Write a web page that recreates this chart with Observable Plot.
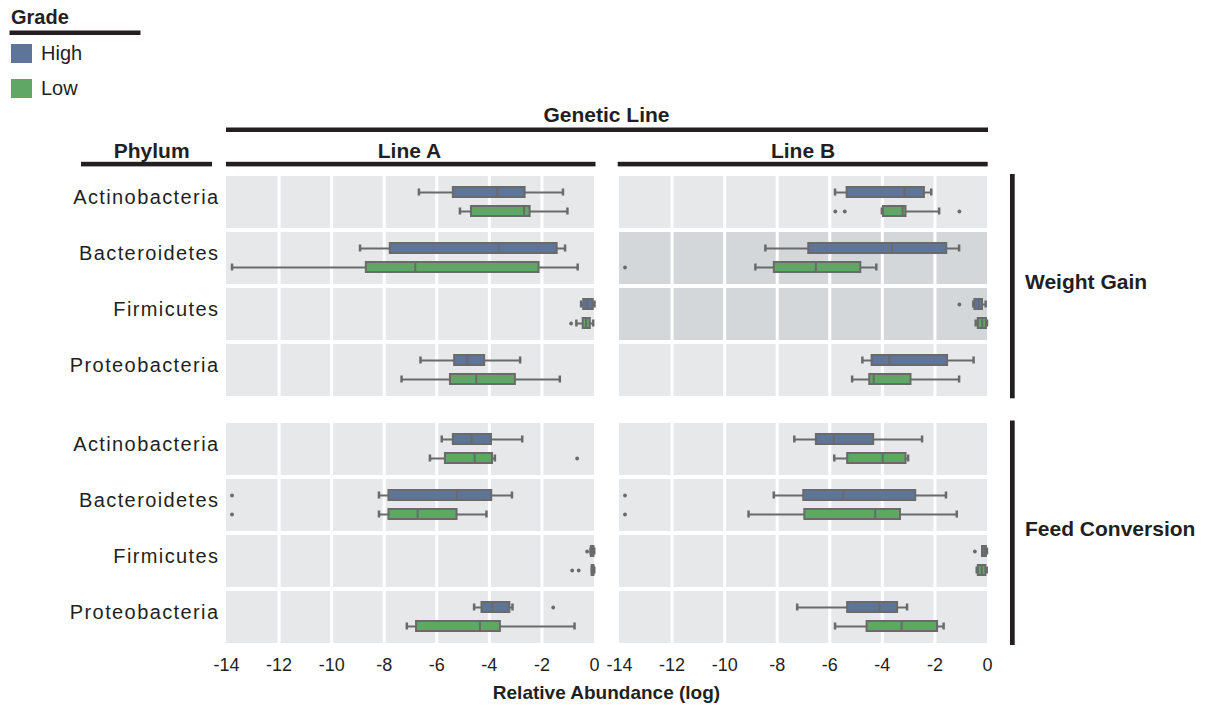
<!DOCTYPE html>
<html><head><meta charset="utf-8">
<script src="https://cdn.jsdelivr.net/npm/d3@7"></script>
<script src="https://cdn.jsdelivr.net/npm/@observablehq/plot@0.6"></script>
<style>
body{margin:0;background:#fff;}
#wrap{position:relative;width:1213px;height:708px;font-family:"Liberation Sans",Arial,Helvetica,sans-serif;color:#231f20;overflow:hidden;}
#wrap > svg{position:absolute;left:0;}
g[aria-label="fy-axis tick label"] text{letter-spacing:1.4px;}
</style></head><body><div id="wrap"></div>
<script>
const lines = ["Line A", "Line B"];
const phyla = ["Actinobacteria", "Bacteroidetes", "Firmicutes", "Proteobacteria"];
const grades = ["High", "Low"];
const traits = ["Weight Gain", "Feed Conversion"];
const gradeColors = ["#5f7499", "#60a765"];
const xTicks = [-14, -12, -10, -8, -6, -4, -2, 0];

// [phylum, grade, lowWhisker, q1, median, q3, highWhisker]
const weightGainLineA = [
  ["Actinobacteria", "High", -6.68, -5.37, -3.70, -2.64, -1.20],
  ["Actinobacteria", "Low", -5.12, -4.68, -2.68, -2.45, -1.03],
  ["Bacteroidetes", "High", -8.92, -7.77, -3.64, -1.42, -1.12],
  ["Bacteroidetes", "Low", -13.79, -8.68, -6.82, -2.11, -0.64],
  ["Firmicutes", "High", -0.51, -0.41, -0.28, -0.05, 0.0],
  ["Firmicutes", "Low", -0.69, -0.43, -0.32, -0.16, -0.05],
  ["Proteobacteria", "High", -6.62, -5.32, -4.83, -4.18, -2.83],
  ["Proteobacteria", "Low", -7.34, -5.48, -4.50, -3.01, -1.32]
];
const weightGainLineB = [
  ["Actinobacteria", "High", -5.80, -5.34, -3.16, -2.40, -2.14],
  ["Actinobacteria", "Low", -4.02, -3.96, -3.23, -3.10, -1.84],
  ["Bacteroidetes", "High", -8.45, -6.80, -3.64, -1.55, -1.08],
  ["Bacteroidetes", "Low", -8.83, -8.11, -6.53, -4.82, -4.23],
  ["Firmicutes", "High", -0.54, -0.48, -0.33, -0.19, -0.07],
  ["Firmicutes", "Low", -0.45, -0.35, -0.20, -0.04, -0.02],
  ["Proteobacteria", "High", -4.76, -4.39, -3.73, -1.52, -0.53],
  ["Proteobacteria", "Low", -5.15, -4.48, -4.33, -2.91, -1.08]
];
const feedConversionLineA = [
  ["Actinobacteria", "High", -5.81, -5.37, -4.68, -3.92, -2.75],
  ["Actinobacteria", "Low", -6.26, -5.67, -4.56, -3.88, -3.79],
  ["Bacteroidetes", "High", -8.20, -7.82, -5.23, -3.91, -3.14],
  ["Bacteroidetes", "Low", -8.20, -7.82, -6.73, -5.23, -4.11],
  ["Firmicutes", "High", -0.15, -0.12, -0.07, -0.02, -0.01],
  ["Firmicutes", "Low", -0.10, -0.09, -0.05, -0.02, -0.01],
  ["Proteobacteria", "High", -4.58, -4.28, -3.88, -3.22, -3.12],
  ["Proteobacteria", "Low", -7.14, -6.77, -4.36, -3.58, -0.76]
];
const feedConversionLineB = [
  ["Actinobacteria", "High", -7.35, -6.51, -5.85, -4.33, -2.49],
  ["Actinobacteria", "Low", -5.83, -5.32, -3.99, -3.10, -3.02],
  ["Bacteroidetes", "High", -8.13, -6.99, -5.49, -2.73, -1.58],
  ["Bacteroidetes", "Low", -9.09, -6.95, -4.27, -3.31, -1.17],
  ["Firmicutes", "High", -0.20, -0.19, -0.10, -0.04, -0.02],
  ["Firmicutes", "Low", -0.41, -0.35, -0.22, -0.06, -0.03],
  ["Proteobacteria", "High", -7.24, -5.32, -4.11, -3.42, -3.06],
  ["Proteobacteria", "Low", -5.80, -4.58, -3.27, -1.90, -1.67]
];
// [trait, line, phylum, grade, value]
const outlierValues = [
  ["Weight Gain", "Line A", "Firmicutes", "Low", -0.89],
  ["Weight Gain", "Line B", "Actinobacteria", "Low", -5.79],
  ["Weight Gain", "Line B", "Actinobacteria", "Low", -5.43],
  ["Weight Gain", "Line B", "Actinobacteria", "Low", -1.07],
  ["Weight Gain", "Line B", "Bacteroidetes", "Low", -13.79],
  ["Weight Gain", "Line B", "Firmicutes", "High", -1.07],
  ["Feed Conversion", "Line A", "Actinobacteria", "Low", -0.66],
  ["Feed Conversion", "Line A", "Bacteroidetes", "High", -13.79],
  ["Feed Conversion", "Line A", "Bacteroidetes", "Low", -13.79],
  ["Feed Conversion", "Line A", "Firmicutes", "High", -0.28],
  ["Feed Conversion", "Line A", "Firmicutes", "Low", -0.85],
  ["Feed Conversion", "Line A", "Firmicutes", "Low", -0.60],
  ["Feed Conversion", "Line A", "Proteobacteria", "High", -1.57],
  ["Feed Conversion", "Line B", "Bacteroidetes", "High", -13.79],
  ["Feed Conversion", "Line B", "Bacteroidetes", "Low", -13.79],
  ["Feed Conversion", "Line B", "Firmicutes", "High", -0.48]
];
// [trait, line, phylum] panels drawn with the darker background
const shadedPanels = [
  ["Weight Gain", "Line B", "Bacteroidetes"],
  ["Weight Gain", "Line B", "Firmicutes"]
];

const gray = "#6a6a6a";
const ink = "#231f20";
const font = '"Liberation Sans", Arial, Helvetica, sans-serif';

const toRows = (arr, trait, line) => arr.map(([phylum, grade, lo, q1, med, q3, hi]) => ({trait, line, phylum, grade, lo, q1, med, q3, hi}));
const boxes = [
  ...toRows(weightGainLineA, "Weight Gain", "Line A"),
  ...toRows(weightGainLineB, "Weight Gain", "Line B"),
  ...toRows(feedConversionLineA, "Feed Conversion", "Line A"),
  ...toRows(feedConversionLineB, "Feed Conversion", "Line B")
];
const outliers = outlierValues.map(([trait, line, phylum, grade, value]) => ({trait, line, phylum, grade, value}));

function makePanel(trait, showX) {
  const b = boxes.filter(d => d.trait === trait);
  const o = outliers.filter(d => d.trait === trait);
  const panels = lines.flatMap(line => phyla.map(phylum => ({
    line, phylum,
    shaded: shadedPanels.some(s => s[0] === trait && s[1] === line && s[2] === phylum)
  })));
  const mb = showX ? 34 : 0;
  const f = {fx: "line", fy: "phylum"};
  return Plot.plot({
    width: 1000,
    height: 224 + mb,
    marginLeft: 226, marginRight: 13, marginTop: 0, marginBottom: mb,
    style: {fontFamily: font, color: ink, background: "transparent", overflow: "visible"},
    x: {domain: [-14, 0], axis: null},
    y: {domain: grades, paddingInner: 0.46, paddingOuter: 0.59, axis: null},
    fx: {domain: lines, paddingInner: 0.0644, paddingOuter: 0, axis: null},
    fy: {domain: phyla, paddingInner: 0.07, paddingOuter: 0, axis: null},
    color: {domain: grades, range: gradeColors},
    marks: [
      Plot.rect(panels.filter(d => !d.shaded), {...f, fill: "#e6e8e9"}),
      Plot.rect(panels.filter(d => d.shaded), {...f, fill: "#d4d7d9"}),
      Plot.ruleX(xTicks.slice(1, -1), {stroke: "#ffffff", strokeWidth: 3}),
      Plot.ruleY(b, {...f, y: "grade", x1: "lo", x2: "hi", stroke: gray, strokeWidth: 2}),
      Plot.tickX(b, {...f, x: "lo", y: "grade", insetTop: 1.5, insetBottom: 1.5, stroke: gray, strokeWidth: 2.5}),
      Plot.tickX(b, {...f, x: "hi", y: "grade", insetTop: 1.5, insetBottom: 1.5, stroke: gray, strokeWidth: 2.5}),
      Plot.barX(b, {...f, x1: "q1", x2: "q3", y: "grade", fill: "grade", stroke: gray, strokeWidth: 2}),
      Plot.tickX(b, {...f, x: "med", y: "grade", stroke: gray, strokeWidth: 2}),
      Plot.dot(o, {...f, x: "value", y: "grade", r: 1.9, fill: gray, stroke: "none"}),
      Plot.axisFy({anchor: "left", tickSize: 0, tickPadding: 7, fontSize: 20, label: null, dy: -4.5, fill: ink}),
      showX ? Plot.axisX({ticks: xTicks, tickSize: 0, tickPadding: 15, fontSize: 18, label: null, tickFormat: d => String(d), fill: ink}) : null
    ]
  });
}

const wrap = document.getElementById("wrap");
const p1 = makePanel(traits[0], false);
p1.style.top = "174px";
wrap.appendChild(p1);
const p2 = makePanel(traits[1], true);
p2.style.top = "421px";
wrap.appendChild(p2);

// annotation overlay: headers, legend, facet strips
const ns = "http://www.w3.org/2000/svg";
const ov = document.createElementNS(ns, "svg");
ov.setAttribute("width", 1213); ov.setAttribute("height", 708);
ov.style.top = "0px"; ov.style.pointerEvents = "none";
ov.setAttribute("font-family", font);
wrap.appendChild(ov);
function txt(s, x, y, opts = {}) {
  const t = document.createElementNS(ns, "text");
  t.textContent = s;
  t.setAttribute("x", x); t.setAttribute("y", y);
  t.setAttribute("fill", ink);
  t.setAttribute("font-size", opts.size || 20);
  if (opts.bold) t.setAttribute("font-weight", "bold");
  if (opts.anchor) t.setAttribute("text-anchor", opts.anchor);
  ov.appendChild(t);
}
function box(x, y, w, h, fill) {
  const r = document.createElementNS(ns, "rect");
  r.setAttribute("x", x); r.setAttribute("y", y);
  r.setAttribute("width", w); r.setAttribute("height", h);
  r.setAttribute("fill", fill);
  ov.appendChild(r);
}
// legend
txt("Grade", 11, 24, {bold: true, size: 20});
box(9.5, 30.5, 131, 4.5, ink);
grades.forEach((g, i) => {
  box(11, 44 + i * 35, 21, 19, gradeColors[i]);
  txt(g, 41, 60 + i * 35, {size: 20});
});
// column strips
txt("Genetic Line", 606.5, 121.5, {bold: true, size: 21, anchor: "middle"});
box(226, 127.5, 762, 4.5, ink);
txt(lines[0], 409.5, 158.3, {bold: true, size: 21, anchor: "middle"});
box(226, 161.8, 369.5, 4.6, ink);
txt(lines[1], 803, 158.3, {bold: true, size: 21, anchor: "middle"});
box(617.7, 161.8, 370, 4.6, ink);
txt("Phylum", 151.7, 158.3, {bold: true, size: 21, anchor: "middle"});
box(81, 161.8, 131, 4.6, ink);
// row strips
box(1010, 174, 4.7, 224.3, ink);
box(1010, 420.5, 4.7, 224.5, ink);
txt(traits[0], 1025, 288.8, {bold: true, size: 21});
txt(traits[1], 1025, 535.8, {bold: true, size: 21});
// x title
txt("Relative Abundance (log)", 606.5, 699, {bold: true, size: 19, anchor: "middle"});
</script></body></html>
